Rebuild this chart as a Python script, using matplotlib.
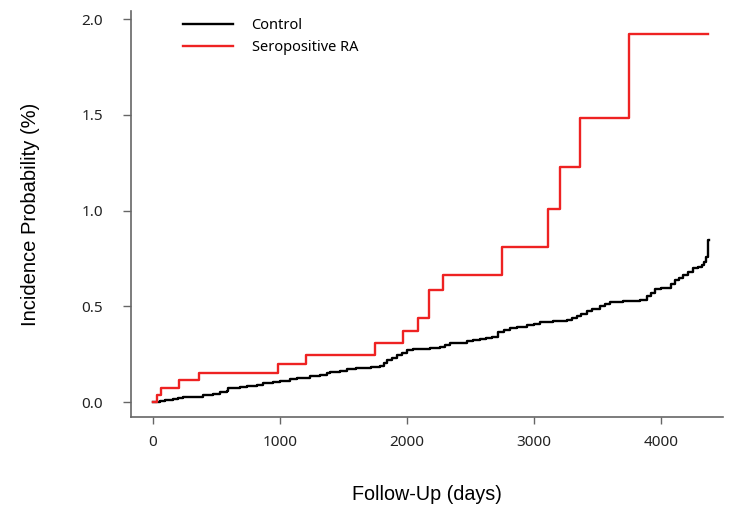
import matplotlib
matplotlib.use("Agg")
import matplotlib.pyplot as plt
import numpy as np

# cumulative incidence (days, %)
ra_days = [0, 29, 61, 202, 365, 982, 1205, 1748, 1966, 2087, 2176, 2283, 2746, 3108, 3207, 3365, 3748, 4370]
ra_prob = [0.0, 0.037, 0.075, 0.113, 0.153, 0.197, 0.247, 0.306, 0.369, 0.44, 0.585, 0.661, 0.809, 1.008, 1.227, 1.483, 1.92, 1.92]

ctrl_days = [0, 16, 55, 94, 160, 199, 239, 304, 396, 475, 528, 580, 593, 685, 738, 816, 869,
             948, 1000, 1079, 1131, 1236, 1315, 1367, 1394, 1472, 1525, 1600, 1656, 1720, 1787,
             1820, 1840, 1880, 1919, 1960, 1998, 2050, 2102, 2181, 2260, 2300, 2339, 2400, 2470,
             2520, 2575, 2620, 2667, 2719, 2760, 2811, 2870, 2942, 3000, 3047, 3150, 3257, 3300,
             3336, 3370, 3415, 3460, 3520, 3560, 3598, 3700, 3780, 3835, 3887, 3920, 3953, 4000,
             4045, 4080, 4110, 4140, 4176, 4210, 4255, 4290, 4320, 4340, 4354, 4373, 4380]
ctrl_prob = [0.0, 0.002, 0.005, 0.01, 0.016, 0.023, 0.028, 0.029, 0.035, 0.042, 0.05, 0.057,
             0.071, 0.077, 0.084, 0.09, 0.098, 0.104, 0.111, 0.122, 0.127, 0.134, 0.141, 0.15,
             0.157, 0.16, 0.172, 0.176, 0.178, 0.183, 0.19, 0.205, 0.219, 0.232, 0.245, 0.258,
             0.27, 0.275, 0.278, 0.282, 0.29, 0.298, 0.306, 0.311, 0.317, 0.323, 0.33, 0.334,
             0.338, 0.367, 0.376, 0.386, 0.392, 0.40, 0.41, 0.418, 0.422, 0.427, 0.438, 0.449,
             0.46, 0.473, 0.486, 0.501, 0.512, 0.524, 0.527, 0.53, 0.533, 0.555, 0.572, 0.59,
             0.594, 0.597, 0.615, 0.637, 0.65, 0.663, 0.68, 0.698, 0.705, 0.715, 0.73, 0.759,
             0.846, 0.846]

x_ticks = [0, 1000, 2000, 3000, 4000]
y_ticks = [0.0, 0.5, 1.0, 1.5, 2.0]


def main() -> None:
    plt.rcParams['font.family'] = ['Noto Sans', 'DejaVu Sans']
    fig = plt.figure(figsize=(7.3, 5.09), dpi=100)
    ax = fig.add_axes([131 / 730, 1 - 417 / 509, 592 / 730, 406 / 509])

    ax.step(ctrl_days, ctrl_prob, where='post', color='black', lw=1.7, label='Control')
    ax.step(ra_days, ra_prob, where='post', color='#ee2222', lw=1.7, label='Seropositive RA')

    ax.set_xlim(-173, 4488)
    ax.set_ylim(-0.078, 2.042)
    ax.set_xticks(x_ticks)
    ax.set_yticks(y_ticks)
    ax.set_yticklabels([f"{v:.1f}" for v in y_ticks])

    for side in ['top', 'right']:
        ax.spines[side].set_visible(False)
    for side in ['left', 'bottom']:
        ax.spines[side].set_color('#666666')
        ax.spines[side].set_linewidth(1.2)
    ax.tick_params(axis='x', direction='out', length=5, width=1, color='#666666',
                   labelsize=11, pad=8, labelcolor='#222222')
    ax.tick_params(axis='y', direction='out', length=6, width=1, color='#666666',
                   labelsize=11, pad=14, labelcolor='#222222')

    ax.set_xlabel('Follow-Up (days)', fontsize=14.2, family='Liberation Sans', labelpad=25)
    ax.set_ylabel('Incidence Probability (%)', fontsize=14.5, family='Liberation Sans', labelpad=30)

    ax.legend(loc='upper left', bbox_to_anchor=(183 / 730, 1 - 18 / 509),
              bbox_transform=fig.transFigure, frameon=False, fontsize=10.5,
              handlelength=3.4, handletextpad=1.3, labelspacing=0.5, borderpad=0,
              borderaxespad=0)

    fig.savefig('out.png', dpi=100)


if __name__ == '__main__':
    main()
